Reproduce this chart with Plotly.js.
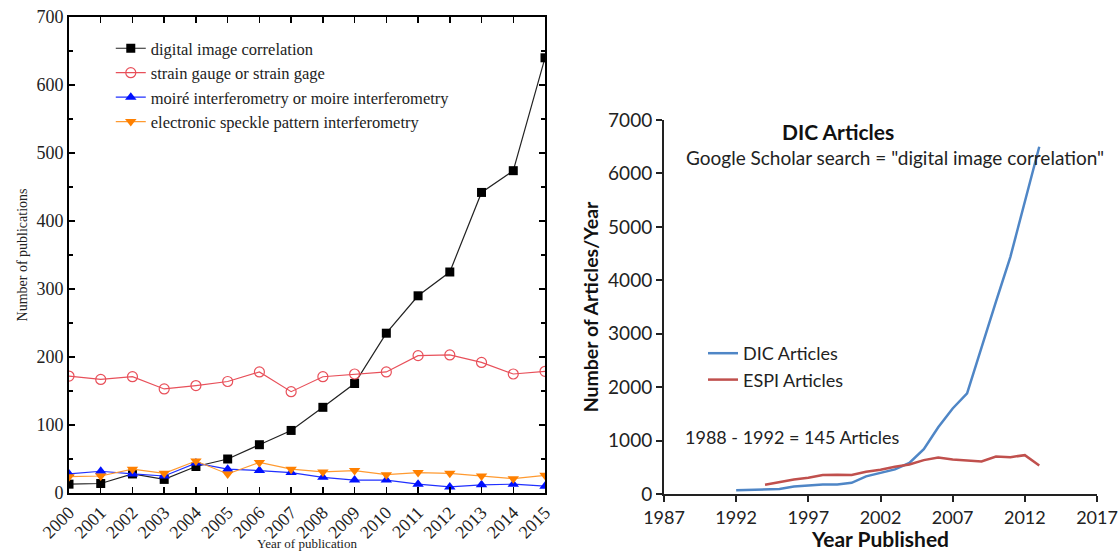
<!DOCTYPE html>
<html>
<head>
<meta charset="utf-8">
<script src="https://cdn.plot.ly/plotly-3.0.1.min.js"></script>
<style>html,body{margin:0;padding:0;background:#fff;}#chart{width:1119px;height:551px;}</style>
</head>
<body>
<div id="chart"></div>
<script>
// Left chart: publications per year (2000-2015)
const pubYears = [2000,2001,2002,2003,2004,2005,2006,2007,2008,2009,2010,2011,2012,2013,2014,2015];
const dicPubs    = [13,14,28,20,39,50,71,92,126,161,235,290,325,442,474,640];
const strainPubs = [172,167,171,153,158,164,178,149,171,175,178,202,203,192,175,179];
const moirePubs  = [28,32,28,25,44,35,33,30,23,19,19,13,9,12,13,10];
const espiPubs   = [24,25,35,29,47,28,45,35,31,33,27,30,29,25,21,26];
const leftNames = ["digital image correlation","strain gauge or strain gage","moiré interferometry or moire interferometry","electronic speckle pattern interferometry"];

// Right chart: Google Scholar articles per year
const dicArtYears = [1992,1993,1994,1995,1996,1997,1998,1999,2000,2001,2002,2003,2004,2005,2006,2007,2008,2009,2010,2011,2012,2013];
const dicArticles = [70,75,80,95,140,165,180,180,210,330,400,460,580,840,1250,1600,1885,2720,3600,4440,5470,6500];
const espiArtYears = [1994,1995,1996,1997,1998,1999,2000,2001,2002,2003,2004,2005,2006,2007,2008,2009,2010,2011,2012,2013];
const espiArticles = [174,224,273,304,354,360,354,416,453,509,553,634,683,646,634,609,702,690,727,534];
const rightNames = ["DIC Articles","ESPI Articles"];

const serif = "Liberation Serif, Times New Roman, serif";
const sans = "Lato, Open Sans, sans-serif";

const traces = [
  {x: pubYears, y: dicPubs, name: leftNames[0], mode: "lines+markers", xaxis: "x", yaxis: "y", legend: "legend",
   line: {color: "#222", width: 1.2}, marker: {symbol: "square", size: 9, color: "#000"}},
  {x: pubYears, y: strainPubs, name: leftNames[1], mode: "lines+markers", xaxis: "x", yaxis: "y", legend: "legend",
   line: {color: "#e8505a", width: 1.2}, marker: {symbol: "circle-open", size: 10, color: "#e8505a", line: {width: 1.2}}},
  {x: pubYears, y: moirePubs, name: leftNames[2], mode: "lines+markers", xaxis: "x", yaxis: "y", legend: "legend",
   line: {color: "#2030ff", width: 1.2}, marker: {symbol: "triangle-up", size: 10, color: "#0010ff"}},
  {x: pubYears, y: espiPubs, name: leftNames[3], mode: "lines+markers", xaxis: "x", yaxis: "y", legend: "legend",
   line: {color: "#ff9a30", width: 1.2}, marker: {symbol: "triangle-down", size: 10, color: "#ff8000"}},
  {x: dicArtYears, y: dicArticles, name: rightNames[0], mode: "lines", xaxis: "x2", yaxis: "y2", legend: "legend2",
   line: {color: "#4f86c6", width: 2.5}},
  {x: espiArtYears, y: espiArticles, name: rightNames[1], mode: "lines", xaxis: "x2", yaxis: "y2", legend: "legend2",
   line: {color: "#c0504d", width: 2.5}}
];

const layout = {
  width: 1119, height: 551,
  margin: {l: 0, r: 0, t: 0, b: 0},
  paper_bgcolor: "#fff", plot_bgcolor: "#fff",
  showlegend: true,
  xaxis: {
    domain: [69/1119, 545/1119], anchor: "y",
    range: [2000, 2015], tickvals: pubYears, ticktext: pubYears.map(String),
    tickangle: -45, ticks: "inside", ticklen: 6, tickwidth: 1.5, tickcolor: "#000",
    showline: true, linewidth: 2, linecolor: "#000", mirror: "allticks",
    showgrid: false, zeroline: false, ticklabeloverflow: "allow",
    tickfont: {family: serif, size: 18, color: "#222"},
    title: {text: "Year of publication", font: {family: serif, size: 13, color: "#222"}, standoff: 0}
  },
  yaxis: {
    domain: [1-493/551, 1-17/551], anchor: "x",
    range: [0, 700], dtick: 100, ticks: "inside", ticklen: 6, tickwidth: 1.5, tickcolor: "#000",
    minor: {ticks: "inside", dtick: 50, ticklen: 4, tickwidth: 1.5, tickcolor: "#000"},
    showline: true, linewidth: 2, linecolor: "#000", mirror: "allticks",
    showgrid: false, zeroline: false, ticklabeloverflow: "allow",
    tickfont: {family: serif, size: 18, color: "#222"},
    title: {text: "Number of publications", font: {family: serif, size: 14, color: "#222"}, standoff: 6}
  },
  xaxis2: {
    domain: [664/1119, 1097/1119], anchor: "y2",
    range: [1987, 2017], tick0: 1987, dtick: 5, ticks: "outside", ticklen: 6, tickwidth: 2, tickcolor: "#222",
    showline: true, linewidth: 2, linecolor: "#222", showgrid: false, zeroline: false,
    ticklabeloverflow: "allow",
    tickfont: {family: sans, size: 18, color: "#222"},
    title: {text: "<b>Year Published</b>", font: {family: sans, size: 21, color: "#111"}, standoff: 3}
  },
  yaxis2: {
    domain: [1-494/551, 1-120/551], anchor: "x2",
    range: [0, 7000], dtick: 1000, ticks: "outside", ticklen: 6, tickwidth: 2, tickcolor: "#222",
    showline: true, linewidth: 2, linecolor: "#222", showgrid: false, zeroline: false,
    ticklabeloverflow: "allow",
    tickfont: {family: sans, size: 19, color: "#222"},
    title: {text: "<b>Number of Articles/Year</b>", font: {family: sans, size: 19.5, color: "#111"}, standoff: 4}
  },
  legend: {
    x: 0.099, y: 1-31/551, xanchor: "left", yanchor: "top",
    bgcolor: "rgba(0,0,0,0)", borderwidth: 0,
    font: {family: serif, size: 16.5, color: "#222"}, itemwidth: 30
  },
  legend2: {
    x: 703/1119, y: 1-335/551, xanchor: "left", yanchor: "top",
    bgcolor: "rgba(0,0,0,0)", borderwidth: 0,
    font: {family: sans, size: 18, color: "#222"}, itemwidth: 30
  },
  annotations: [
    {xref: "paper", yref: "paper", x: 838/1119, y: 1-131/551, text: "<b>DIC Articles</b>", showarrow: false,
     font: {family: sans, size: 21, color: "#111"}, xanchor: "center", yanchor: "middle"},
    {xref: "paper", yref: "paper", x: 895/1119, y: 1-158/551, text: "Google Scholar search = \"digital image correlation\"", showarrow: false,
     font: {family: sans, size: 19, color: "#222"}, xanchor: "center", yanchor: "middle"},
    {xref: "paper", yref: "paper", x: 683/1119, y: 1-437/551, text: "1988 - 1992 = 145 Articles", showarrow: false,
     font: {family: sans, size: 18, color: "#222"}, xanchor: "left", yanchor: "middle"}
  ]
};

Plotly.newPlot("chart", traces, layout, {displayModeBar: false, staticPlot: true});
</script>
</body>
</html>
